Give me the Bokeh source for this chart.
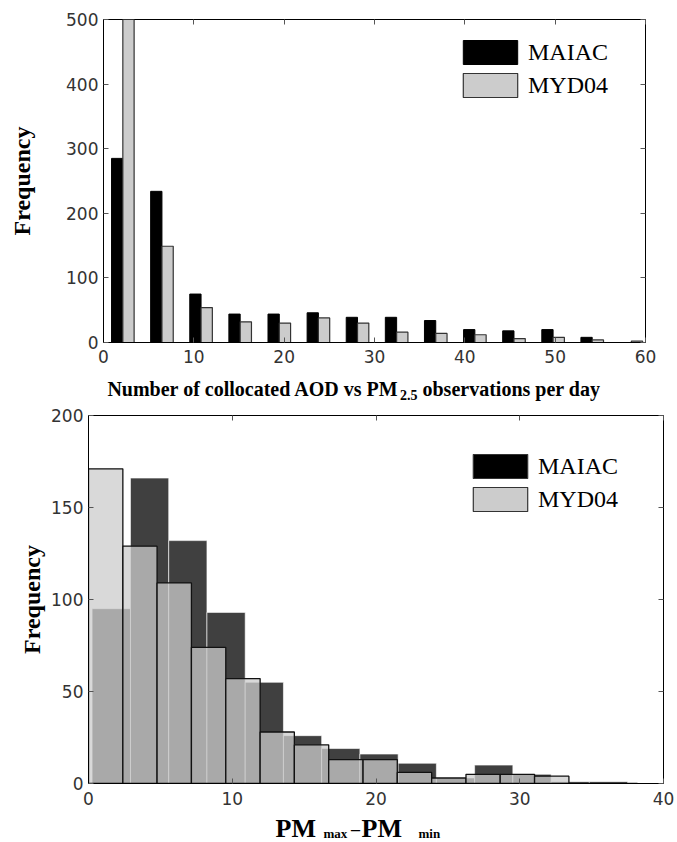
import math
from bokeh.plotting import figure
from bokeh.models import (Range1d, LinearAxis, FixedTicker, Legend,
                          LegendItem, ColumnDataSource)
from bokeh.core.properties import value
from bokeh.embed import file_html
from bokeh.resources import INLINE

# ---------------- data: top panel (observations per day) ----------------
obs_bin_centers = [2.14, 6.47, 10.8, 15.13, 19.46, 23.79, 28.12, 32.45,
                   36.78, 41.11, 45.44, 49.77, 54.1, 58.43]
obs_maiac = [285, 234, 75, 44, 44, 46, 39, 39, 34, 20, 18, 20, 8, 0]
obs_myd04 = [560, 149, 54, 32, 30, 38, 30, 16, 14, 12, 6, 8, 4, 2]
top_xticks = [0, 10, 20, 30, 40, 50, 60]
top_yticks = [0, 100, 200, 300, 400, 500]

# ---------------- data: bottom panel (PM max - PM min) ----------------
pm_maiac_edges = [0.25, 2.92, 5.58, 8.24, 10.9, 13.56, 16.22, 18.88, 21.54,
                  24.2, 26.86, 29.52, 32.18, 34.84, 37.5]
pm_maiac_counts = [95, 166, 132, 93, 55, 26, 19, 16, 11, 3, 10, 5, 1, 1]
pm_myd04_edges = [0, 2.39, 4.77, 7.16, 9.55, 11.94, 14.32, 16.71, 19.1,
                  21.48, 23.87, 26.26, 28.64, 31.03, 33.42, 35.8, 38.19]
pm_myd04_counts = [171, 129, 109, 74, 57, 28, 21, 13, 13, 6, 3, 5, 5, 4, 0, 0]
bot_xticks = [0, 10, 20, 30, 40]
bot_yticks = [0, 50, 100, 150, 200]

series_names = ["MAIAC", "MYD04"]

SERIF = "Liberation Serif"
SANS = "DejaVu Sans"
BAR_W = 1.25
W = 677


def style(p, xticks, yticks, xstand, ylabel_stand):
    p.xgrid.visible = False
    p.ygrid.visible = False
    p.outline_line_color = "black"
    p.outline_line_width = 1
    for ax in (p.xaxis[0], p.yaxis[0]):
        ax.major_tick_in = 5
        ax.major_tick_out = 0
        ax.minor_tick_in = 0
        ax.minor_tick_out = 0
        ax.axis_line_color = "black"
        ax.major_tick_line_color = "#555555"
        ax.major_label_text_font = SANS
        ax.major_label_text_font_size = "17px"
        ax.major_label_text_color = "#333333"
    p.xaxis[0].ticker = FixedTicker(ticks=xticks)
    p.yaxis[0].ticker = FixedTicker(ticks=yticks)
    p.xaxis[0].major_label_standoff = xstand
    p.yaxis[0].major_label_standoff = 5
    p.yaxis[0].axis_label = "Frequency"
    p.yaxis[0].axis_label_text_font = SERIF
    p.yaxis[0].axis_label_text_font_style = "bold"
    p.yaxis[0].axis_label_text_font_size = "24px"
    p.yaxis[0].axis_label_text_color = "black"
    p.yaxis[0].axis_label_standoff = ylabel_stand
    for ticks, loc in ((xticks, "above"), (yticks, "right")):
        ax = LinearAxis(ticker=FixedTicker(ticks=ticks), major_tick_in=5,
                        major_tick_out=0, minor_tick_in=0, minor_tick_out=0,
                        axis_line_color=None, major_tick_line_color="#555555",
                        major_label_overrides={t: "" for t in ticks},
                        major_label_text_font_size="8px",
                        major_label_standoff=0)
        p.add_layout(ax, loc)


def make_legend(renderers, loc):
    return Legend(items=[LegendItem(label=n, renderers=[r])
                         for n, r in zip(series_names, renderers)],
                  location=loc, glyph_width=68, glyph_height=30,
                  label_standoff=4, spacing=3, padding=0, margin=0,
                  border_line_color=None, background_fill_alpha=0,
                  label_text_font=SERIF, label_text_font_size="24px",
                  label_text_color="black", label_height=30)


def strip(height, pieces, margin=None):
    s = figure(width=W, height=height, output_backend="svg",
               toolbar_location=None, x_range=Range1d(0, W),
               y_range=Range1d(0, height), min_border=0,
               outline_line_color=None, background_fill_alpha=0,
               border_fill_alpha=0)
    if margin is not None:
        s.margin = margin
    s.axis.visible = False
    s.grid.visible = False
    for txt, x, y, size, align in pieces:
        s.text(x=[x], y=[y], text=[txt], text_font=value(SERIF),
               text_font_style="bold", text_font_size=size,
               text_color="black", text_align=align,
               text_baseline="alphabetic")
    return s


# ================= top figure =================
p1 = figure(width=W, height=370, output_backend="svg", toolbar_location=None,
            x_range=Range1d(0, 60), y_range=Range1d(0, 500),
            min_border_left=103, min_border_right=32, min_border_top=19,
            min_border_bottom=28)
style(p1, top_xticks, top_yticks, 7, 28)

src1 = ColumnDataSource(dict(
    xm=[c - BAR_W / 2 for c in obs_bin_centers],
    xg=[c + BAR_W / 2 for c in obs_bin_centers],
    maiac=obs_maiac, myd04=obs_myd04))
r_m = p1.vbar(x="xm", top="maiac", bottom=0, width=BAR_W, source=src1,
              fill_color="black", line_color="black", line_width=1)
r_g = p1.vbar(x="xg", top="myd04", bottom=0, width=BAR_W, source=src1,
              fill_color="#cccccc", line_color="#333333", line_width=1.2)
p1.add_layout(make_legend([r_m, r_g], (353, 242)), "center")

s1 = strip(34, [("Number of collocated AOD vs PM", 398.5, 15.7, "20px", "right"),
                ("2.5", 399.5, 9.7, "14px", "left"),
                ("observations per day", 422, 15.7, "20px", "left")])

# ================= bottom figure =================
p2 = figure(width=W, height=407, output_backend="svg", toolbar_location=None,
            x_range=Range1d(0, 40), y_range=Range1d(0, 200),
            min_border_left=88, min_border_right=14, min_border_top=11,
            min_border_bottom=28)
style(p2, bot_xticks, bot_yticks, 8, 3)

src_m = ColumnDataSource(dict(left=pm_maiac_edges[:-1], right=pm_maiac_edges[1:],
                              top=pm_maiac_counts))
src_g = ColumnDataSource(dict(left=pm_myd04_edges[:-1], right=pm_myd04_edges[1:],
                              top=pm_myd04_counts))
p2.quad(left="left", right="right", top="top", bottom=0, source=src_m,
        fill_color="#404040", line_color="white", line_alpha=0.6, line_width=1)
p2.quad(left="left", right="right", top="top", bottom=0, source=src_g,
        fill_color="#cccccc", fill_alpha=0.75, line_color="#111111", line_width=1.3)

nan = math.nan
d_m = p2.quad(left=[nan], right=[nan], top=[nan], bottom=[nan],
              fill_color="black", line_color="#333333", line_width=1.2)
d_g = p2.quad(left=[nan], right=[nan], top=[nan], bottom=[nan],
              fill_color="#cccccc", line_color="#333333", line_width=1.2)
p2.add_layout(make_legend([d_m, d_g], (378, 269)), "center")

# transparent strip that overlaps the bottom axis area a little
s2 = strip(42, [("PM", 275, 14, "26px", "left"),
                ("max", 323, 9, "13px", "left"),
                ("\u2013", 355, 14, "18px", "center"),
                ("PM", 361, 14, "26px", "left"),
                ("min", 418, 9, "13px", "left")],
           margin=(-11, 0, 0, 0))

open("out.html", "w").write(file_html([p1, s1, p2, s2], INLINE))
